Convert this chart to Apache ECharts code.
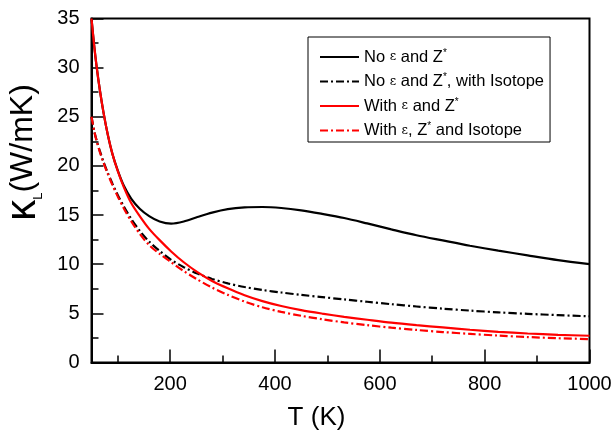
<!DOCTYPE html>
<html>
<head>
<meta charset="utf-8">
<script src="https://cdn.jsdelivr.net/npm/echarts@6/dist/echarts.min.js"></script>
<style>
html,body{margin:0;padding:0;background:#fff;}
#chart{width:614px;height:432px;}
</style>
</head>
<body>
<div id="chart"></div>
<script>
// Temperature (K)
var temps = [50,55,60,66,73,81,90,100,112,126,142,160,180,202,226,252,280,310,342,376,412,450,490,532,576,622,670,720,772,826,882,940,1000];
// No ε and Z*
var noEpsZ = [35.0,32.3,30.0,27.7,25.4,23.2,21.2,19.55,17.95,16.65,15.65,14.9,14.35,14.13,14.35,14.8,15.25,15.6,15.78,15.82,15.72,15.48,15.12,14.7,14.15,13.55,12.95,12.42,11.88,11.38,10.9,10.42,10.0];
// No ε and Z*, with Isotope
var noEpsZIso = [25.0,23.6,22.55,21.5,20.4,19.3,18.2,17.05,15.85,14.6,13.4,12.3,11.35,10.45,9.7,9.05,8.5,8.05,7.68,7.38,7.12,6.88,6.65,6.42,6.18,5.93,5.7,5.48,5.28,5.1,4.95,4.82,4.7];
// With ε and Z*
var withEpsZ = [35.0,32.3,30.0,27.7,25.4,23.2,21.2,19.5,17.8,16.2,14.9,13.6,12.45,11.3,10.2,9.2,8.3,7.55,6.85,6.25,5.75,5.33,4.98,4.65,4.35,4.05,3.8,3.57,3.33,3.12,2.95,2.82,2.72];
// With ε, Z* and Isotope
var withEpsZIso = [25.0,23.6,22.5,21.4,20.3,19.2,18.05,16.9,15.65,14.35,13.1,11.95,11.05,10.2,9.3,8.45,7.62,6.88,6.2,5.62,5.15,4.75,4.4,4.08,3.8,3.54,3.31,3.1,2.91,2.74,2.59,2.47,2.38];

var seriesNames = ['s1','s2','s3','s4'];
var legendLabels = {
  s1: '{t|No }{e|ε}{t| and Z}{s|*}',
  s2: '{t|No }{e|ε}{t| and Z}{s|*}{t|, with Isotope}',
  s3: '{t|With }{e|ε}{t| and Z}{s|*}',
  s4: '{t|With }{e|ε}{t|, Z}{s|*}{t| and Isotope}'
};
var xMajor = [200,400,600,800,1000];
var xMinor = [100,300,500,700,900];

function pairs(ys){ return temps.map(function(t,i){ return [t, ys[i]]; }); }

var dashDot = [8,3,2,3];
function mk(name, ys, color, type){
  return {
    name: name, type: 'line', data: pairs(ys), xAxisIndex: 0,
    showSymbol: false, symbol: 'none', smooth: 0.3,
    lineStyle: {color: color, width: 2.2, type: type},
    itemStyle: {color: color}
  };
}

var font = 'Liberation Sans, Arial, sans-serif';
var chart = echarts.init(document.getElementById('chart'), null, {renderer:'canvas'});
chart.setOption({
  animation: false,
  backgroundColor: '#fff',
  grid: {left: 91.5, right: 24.5, top: 18.5, bottom: 69.5, show: true, borderColor: '#000', borderWidth: 2,
    containLabel: false, outerBoundsMode: 'none'},
  legend: {
    data: seriesNames,
    orient: 'vertical',
    left: 308, top: 37,
    padding: [11, 6, 3, 11],
    itemGap: 7,
    itemWidth: 39, itemHeight: 18,
    itemStyle: {opacity: 0},
    borderColor: '#000', borderWidth: 1,
    backgroundColor: '#fff',
    formatter: function(n){ return legendLabels[n]; },
    textStyle: {
      color: '#000', fontFamily: font, fontSize: 16.5,
      rich: {
        t: {fontFamily: font, fontSize: 16.5, color: '#000'},
        e: {fontFamily: 'DejaVu Serif, serif', fontSize: 12.5, color: '#000'},
        s: {fontFamily: font, fontSize: 10, color: '#000', verticalAlign: 'top', padding: [0,0,8,0]}
      }
    }
  },
  xAxis: [{
    type: 'value', min: 50, max: 1000,
    name: 'T (K)', nameLocation: 'middle', nameGap: 42,
    nameTextStyle: {fontFamily: font, fontSize: 26, color: '#000', padding: [0, 48, 0, 0]},
    axisLine: {show: true, lineStyle: {color: '#000', width: 2}},
    axisTick: {show: true, inside: true, length: 13, customValues: xMajor, lineStyle: {color: '#000', width: 1.5}},
    axisLabel: {customValues: xMajor, fontFamily: font, fontSize: 20, color: '#000', margin: 12,
      formatter: function(v){ return String(v); }},
    splitLine: {show: false}
  }, {
    type: 'value', min: 50, max: 1000, position: 'bottom',
    axisLine: {show: false},
    axisTick: {show: true, inside: true, length: 7, customValues: xMinor, lineStyle: {color: '#000', width: 1.5}},
    axisLabel: {show: false},
    splitLine: {show: false}
  }],
  yAxis: {
    type: 'value', min: 0, max: 35, interval: 5,
    name: '{k|κ}{sub|L}{n|(W/mK)}', nameLocation: 'middle', nameGap: 47, nameRotate: 90,
    nameTextStyle: {
      color: '#000', padding: [0, 0, 0, 76],
      rich: {
        k: {fontFamily: font, fontSize: 42, color: '#000'},
        sub: {fontFamily: font, fontSize: 13, color: '#000', verticalAlign: 'bottom', padding: [13,0,0,0]},
        n: {fontFamily: font, fontSize: 32, color: '#000'}
      }
    },
    axisLine: {show: true, lineStyle: {color: '#000', width: 2}},
    axisTick: {show: true, inside: true, length: 12, lineStyle: {color: '#000', width: 1.5}},
    minorTick: {show: true, splitNumber: 2, length: 7, lineStyle: {color: '#000', width: 1.5}},
    axisLabel: {fontFamily: font, fontSize: 20, color: '#000', margin: 12},
    splitLine: {show: false}
  },
  series: [
    mk('s1', noEpsZ, '#000000', 'solid'),
    mk('s2', noEpsZIso, '#000000', dashDot),
    mk('s3', withEpsZ, '#ff0000', 'solid'),
    mk('s4', withEpsZIso, '#ff0000', dashDot)
  ]
});
</script>
</body>
</html>
